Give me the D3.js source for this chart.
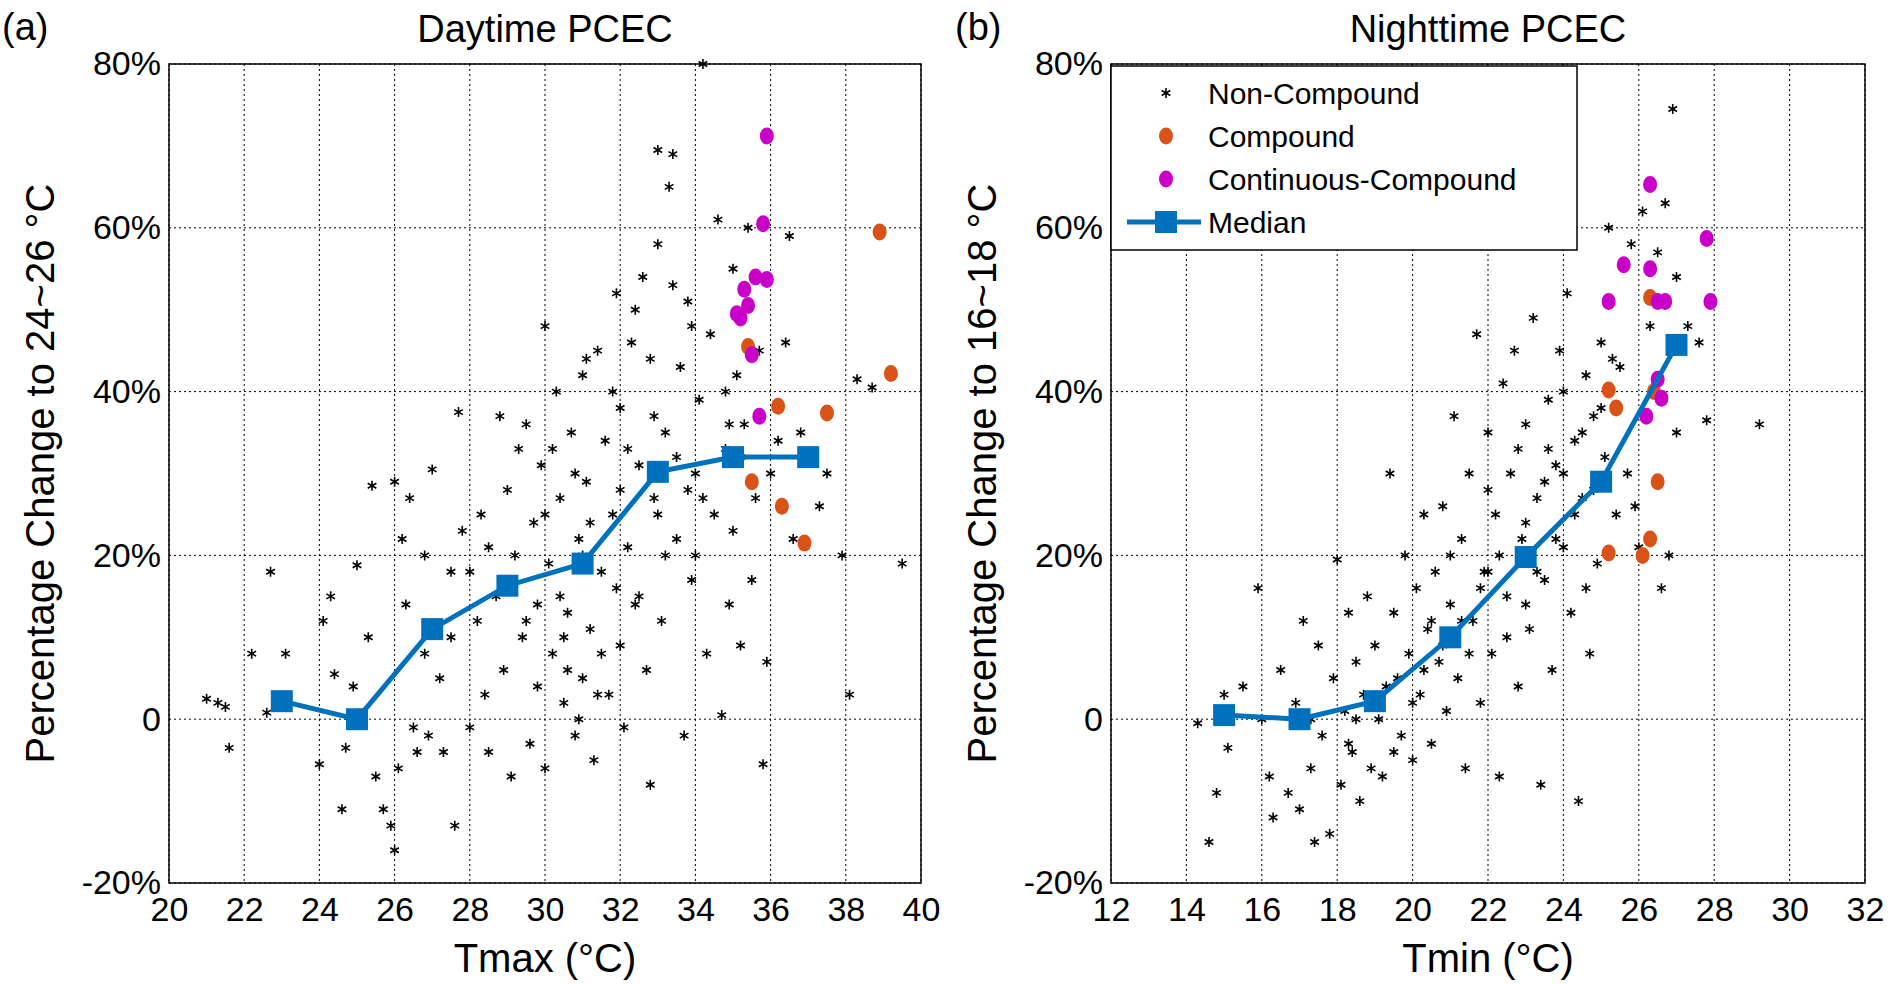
<!DOCTYPE html>
<html><head><meta charset="utf-8">
<script src="https://cdn.jsdelivr.net/npm/d3@7"></script>
<style>body{margin:0;background:#fff}text{font-family:"Liberation Sans",Arial,sans-serif}</style>
</head><body><svg id="c" width="1892" height="985"></svg>
<script>
// Daytime (Tmax) data
const dayNon = [[21,2.5],[21.3,2],[21.5,1.5],[21.6,-3.5],[22.2,8],[22.6,0.8],[22.7,18],[23.1,8],[24,-5.5],[24.1,12],[24.3,15],[24.4,5.5],[24.6,-11],[24.7,-3.5],[24.9,4],[25,18.8],[25.3,10],[25.4,28.5],[25.5,-7],[25.7,-11],[25.9,-13],[26,-16],[26,29],[26.1,-6],[26.2,22],[26.3,14],[26.4,27],[26.5,-1],[26.6,-4],[26.8,8],[26.9,-2],[27,30.5],[27.2,5],[27.3,-4],[27.5,18],[27.6,-13],[27.7,37.5],[27.8,23],[28,-1],[28.2,12],[28.3,25],[28.4,3],[28.5,-4],[28.7,15],[28.8,37],[28.9,6],[29,28],[29.1,-7],[29.2,20],[29.3,33],[29.4,10],[29.5,36],[29.6,-3],[29.7,24],[29.8,14],[29.9,31],[30,-6],[30,48],[30.1,19],[30.2,8],[30.3,40],[30.4,27],[30.5,2],[30.6,13],[30.7,35],[30.8,-2],[30.9,22],[31,5],[31,42],[31.1,29],[31.2,11],[31.3,-5],[31.4,45],[31.5,18],[31.6,34],[31.7,3],[31.8,25],[31.9,52],[32,9],[32,38],[32.1,-1],[32.2,21],[32.3,46],[32.4,14],[32.5,31],[32.6,54],[32.7,6],[32.8,-8],[32.9,27],[33,58],[33,69.5],[33.1,12],[33.2,35],[33.3,65],[33.4,69],[33.5,22],[33.6,43],[33.7,-2],[33.8,51],[33.9,17],[34,30],[34.1,39],[34.2,80],[34.3,8],[34.4,47],[34.5,25],[34.6,61],[34.7,0.5],[34.8,33],[34.9,14],[35,55],[35,23],[35.1,42],[35.2,9],[35.3,36],[35.4,60],[35.5,17],[35.6,27],[35.7,45],[35.8,-5.5],[35.9,7],[36,30],[36.2,34],[36.4,46],[36.5,59],[36.6,22],[36.8,35],[37.3,26],[37.5,30],[37.9,20],[38.1,3],[38.3,41.5],[38.7,40.5],[39.5,19],
[29,17],[30,25],[31,20],[32,28],[33,25],[34,20],[30.5,10],[31.5,8],[32.5,15],[33.5,32],[28.5,21],[29.5,12],[30.8,30],[31.8,40],[32.8,44],[33.8,28],[34.8,40],[27.5,10],[28,18],[26.8,20],[30.2,33],[31.2,24],[32.2,33],[33.2,20],[34.2,27],[35.2,32],[29.8,4],[30.9,0],[31.9,16],[32.9,37],[33.9,48],[34.9,36],[30.6,6],[31.4,3],[32.4,50],[33.4,53],[31.1,44],[30.4,15]];
const dayComp = [[35.4,45.5],[36.2,38.2],[37.5,37.4],[38.9,59.5],[39.2,42.2],[35.5,29],[36.3,26],[36.9,21.5]];
const dayCont = [[35.9,71.2],[35.8,60.5],[35.3,52.5],[35.6,54],[35.9,53.7],[35.4,50.5],[35.1,49.5],[35.5,44.5],[35.7,37],[35.2,49]];
const dayMed = [[23,2.2],[25,0],[27,11],[29,16.3],[31,19],[33,30.2],[35,32],[37,32]];

// Nighttime (Tmin) data
const nightNon = [[14.3,-0.5],[14.6,-15],[14.8,-9],[15,3],[15.1,-3.5],[15.5,4],[15.9,16],[16,0],[16.2,-7],[16.3,-12],[16.5,6],[16.7,-9],[16.9,2],[17,-11],[17.1,12],[17.3,-6],[17.4,-15],[17.5,9],[17.6,-2],[17.8,-14],[17.9,5],[18,19.5],[18.1,-8],[18.2,1],[18.3,13],[18.4,-4],[18.5,7],[18.6,-10],[18.7,3],[18.8,15],[18.9,-6],[19,9],[19.1,0],[19.2,-7],[19.4,30],[19.5,13],[19.6,5],[19.7,-2],[19.8,20],[19.9,8],[20,-5],[20.1,16],[20.2,3],[20.3,25],[20.4,11],[20.5,-3],[20.6,18],[20.7,7],[20.8,26],[20.9,1],[21,14],[21.1,37],[21.2,5],[21.3,22],[21.4,-6],[21.5,30],[21.6,12],[21.7,47],[21.8,2],[21.9,18],[22,35],[22.1,8],[22.2,25],[22.3,-7],[22.4,41],[22.5,15],[22.6,30],[22.7,45],[22.8,4],[22.9,22],[23,36],[23.1,11],[23.2,49],[23.3,27],[23.4,-8],[23.5,17],[23.6,39],[23.7,6],[23.8,31],[23.9,45],[24,21],[24.1,52],[24.2,13],[24.3,34],[24.4,-10],[24.5,27],[24.6,42],[24.7,8],[24.8,37],[24.9,19],[25,46],[25.1,32],[25.2,60],[25.4,25],[25.5,43],[25.7,30],[25.8,58],[25.9,26],[26,21],[26.1,62],[26.3,48],[26.5,57],[26.6,16],[26.7,63],[26.8,20],[26.9,74.5],[27,35],[27,54],[27.3,48],[27.6,46],[27.8,36.5],[29.2,36],
[21,20],[22,18],[23,24],[24,30],[22.5,10],[23.5,29],[24.5,35],[21.5,8],[20.5,12],[19.5,-4],[18.5,0],[20,2],[22,28],[23,14],[24,40],[25,38],[21.8,16],[22.8,33],[23.8,22],[24.8,28],[20.3,6],[19.3,4],[18.3,-3],[17.3,0],[22.3,20],[23.3,18],[24.3,25],[21.3,12],[20.8,9],[23.6,33],[24.6,16],[25.3,44]];
const nightComp = [[25.2,40.2],[25.4,38],[26.3,51.5],[26.5,29],[26.3,22],[25.2,20.3],[26.1,20],[26.4,40]];
const nightCont = [[26.3,65.3],[25.6,55.5],[26.3,55],[25.2,51],[26.5,51],[26.7,51],[27.8,58.7],[27.9,51],[26.2,37],[26.6,39.2],[26.5,41.5]];
const nightMed = [[15,0.5],[17,0],[19,2.2],[21,10],[23,19.8],[25,29],[27,45.7]];

const yTicks = [-20, 0, 20, 40, 60, 80];
const legendItems = ["Non-Compound", "Compound", "Continuous-Compound", "Median"];

const svg = d3.select('#c');
const yTop = 64, yBot = 883;
const orange = '#d95319', magenta = '#c800c8', blue = '#0072bd';
const star = d3.symbol().type(d3.symbolAsterisk).size(70);

function panel(cfg) {
  const x = d3.scaleLinear().domain(cfg.xd).range([cfg.x0, cfg.x1]);
  const y = d3.scaleLinear().domain([-20, 80]).range([yBot, yTop]);
  const g = svg.append('g');
  const xt = d3.range(cfg.xd[0], cfg.xd[1] + 1, 2);
  // grid
  g.selectAll('.gx').data(xt).enter().append('line')
    .attr('x1', d => x(d)).attr('x2', d => x(d)).attr('y1', yTop).attr('y2', yBot)
    .attr('stroke', '#000').attr('stroke-width', 1).attr('stroke-dasharray', '2,3');
  g.selectAll('.gy').data(yTicks).enter().append('line')
    .attr('y1', d => y(d)).attr('y2', d => y(d)).attr('x1', cfg.x0).attr('x2', cfg.x1)
    .attr('stroke', '#000').attr('stroke-width', 1).attr('stroke-dasharray', '2,3');
  // axes
  const xa = g.append('g').attr('transform', `translate(0,${yBot})`)
    .call(d3.axisBottom(x).tickValues(xt).tickSize(0).tickPadding(14));
  const ya = g.append('g').attr('transform', `translate(${cfg.x0},0)`)
    .call(d3.axisLeft(y).tickValues(yTicks).tickSize(0).tickPadding(8).tickFormat(d => d === 0 ? '0' : d + '%'));
  [xa, ya].forEach(a => { a.select('.domain').remove(); a.selectAll('text').attr('font-size', 34).attr('fill', '#000'); });
  g.append('rect').attr('x', cfg.x0).attr('y', yTop).attr('width', cfg.x1 - cfg.x0).attr('height', yBot - yTop)
    .attr('fill', 'none').attr('stroke', '#000').attr('stroke-width', 1.5);
  // points
  g.selectAll('.s').data(cfg.non).enter().append('path').attr('d', star)
    .attr('transform', d => `translate(${x(d[0])},${y(d[1])})`).attr('stroke', '#000').attr('stroke-width', 1.6).attr('fill', 'none');
  g.selectAll('.cp').data(cfg.comp).enter().append('ellipse')
    .attr('cx', d => x(d[0])).attr('cy', d => y(d[1])).attr('rx', 7).attr('ry', 8.5).attr('fill', orange);
  g.selectAll('.cc').data(cfg.cont).enter().append('ellipse')
    .attr('cx', d => x(d[0])).attr('cy', d => y(d[1])).attr('rx', 7).attr('ry', 8.5).attr('fill', magenta);
  g.append('path').datum(cfg.med).attr('fill', 'none').attr('stroke', blue).attr('stroke-width', 5)
    .attr('d', d3.line().x(d => x(d[0])).y(d => y(d[1])));
  g.selectAll('.m').data(cfg.med).enter().append('rect')
    .attr('x', d => x(d[0]) - 11).attr('y', d => y(d[1]) - 11).attr('width', 22).attr('height', 22).attr('fill', blue);
  // labels
  g.append('text').attr('x', (cfg.x0 + cfg.x1) / 2).attr('y', 42).attr('text-anchor', 'middle').attr('font-size', 38).text(cfg.title);
  g.append('text').attr('x', cfg.tagX).attr('y', 40).attr('font-size', 38).text(cfg.tag);
  g.append('text').attr('x', (cfg.x0 + cfg.x1) / 2).attr('y', 972).attr('text-anchor', 'middle').attr('font-size', 40).text(cfg.xlab);
  g.append('text').attr('transform', `translate(${cfg.x0 - 115},${(yTop + yBot) / 2}) rotate(-90)`)
    .attr('text-anchor', 'middle').attr('font-size', 40).text(cfg.ylab);
}

panel({ xd: [20, 40], x0: 169, x1: 921, non: dayNon, comp: dayComp, cont: dayCont, med: dayMed,
  title: 'Daytime PCEC', tag: '(a)', tagX: 2, xlab: 'Tmax (°C)', ylab: 'Percentage Change to 24~26 °C' });
panel({ xd: [12, 32], x0: 1111, x1: 1865, non: nightNon, comp: nightComp, cont: nightCont, med: nightMed,
  title: 'Nighttime PCEC', tag: '(b)', tagX: 955, xlab: 'Tmin (°C)', ylab: 'Percentage Change to 16~18 °C' });

// legend
const lg = svg.append('g').attr('transform', 'translate(1111,66)');
lg.append('rect').attr('width', 466).attr('height', 184).attr('fill', '#fff').attr('stroke', '#000').attr('stroke-width', 1.5);
legendItems.forEach((t, i) => {
  const cy = 27 + i * 43;
  const it = lg.append('g').attr('transform', `translate(0,${cy})`);
  if (i === 0) it.append('path').attr('d', star).attr('transform', 'translate(55,0)').attr('stroke', '#000').attr('stroke-width', 1.6).attr('fill', 'none');
  else if (i < 3) it.append('ellipse').attr('cx', 55).attr('rx', 7).attr('ry', 8.5).attr('fill', i === 1 ? orange : magenta);
  else {
    it.append('line').attr('x1', 16).attr('x2', 90).attr('stroke', blue).attr('stroke-width', 5);
    it.append('rect').attr('x', 44).attr('y', -11).attr('width', 22).attr('height', 22).attr('fill', blue);
  }
  it.append('text').attr('x', 97).attr('y', 11).attr('font-size', 30).text(t);
});
</script></body></html>
